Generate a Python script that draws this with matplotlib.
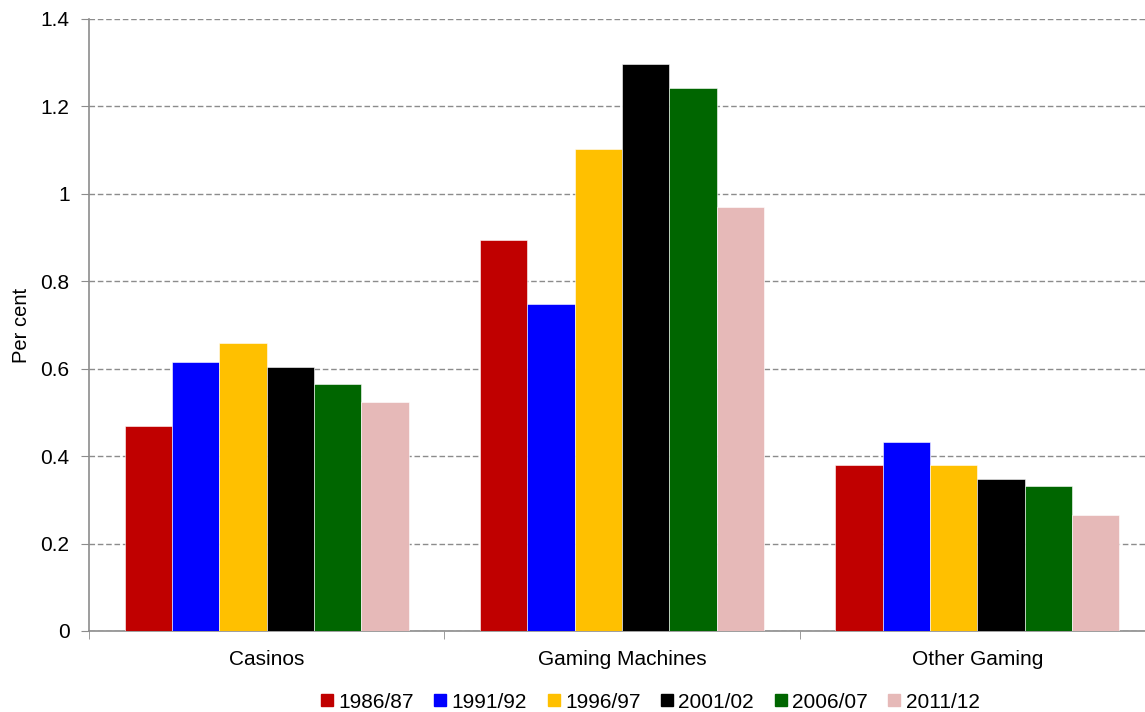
import numpy as np
import matplotlib.pyplot as plt

plt.rcParams['font.family'] = ['Liberation Sans', 'DejaVu Sans']

categories = ['Casinos', 'Gaming Machines', 'Other Gaming']
years = ['1986/87', '1991/92', '1996/97', '2001/02', '2006/07', '2011/12']
v1986 = [0.469, 0.894, 0.380]
v1991 = [0.615, 0.748, 0.432]
v1996 = [0.659, 1.103, 0.380]
v2001 = [0.604, 1.297, 0.348]
v2006 = [0.565, 1.242, 0.332]
v2011 = [0.524, 0.970, 0.265]
series = [v1986, v1991, v1996, v2001, v2006, v2011]
colors = ['#C00000', '#0000FF', '#FFC000', '#000000', '#006600', '#E6B9B8']

fig = plt.figure(figsize=(11.45, 7.12), dpi=100)
# the plot area runs a little past the right edge of the image, as in the original
ax = fig.add_axes([89 / 1145, 1 - 631 / 712, 1066 / 1145, 612 / 712])

x = np.arange(len(categories))
w = 0.8 / len(series)
for i, (vals, c, lab) in enumerate(zip(series, colors, years)):
    ax.bar(x - 0.4 + w * (i + 0.5), vals, w, color=c, label=lab,
           edgecolor='white', linewidth=0.4, zorder=3)

ax.set_xlim(-0.5, 2.5)
ax.set_ylim(0, 1.4)
ax.set_yticks(np.arange(0, 1.41, 0.2))
ax.set_yticklabels(['0', '0.2', '0.4', '0.6', '0.8', '1', '1.2', '1.4'])
ax.yaxis.grid(True, color='#8c8c8c', linestyle=(0, (4, 2)), linewidth=1)
ax.set_axisbelow(True)

ax.set_xticks(x)
ax.set_xticklabels(categories)
ax.set_xticks([-0.5, 0.5, 1.5, 2.5], minor=True)
ax.tick_params(axis='x', which='major', length=0, pad=14, labelsize=15)
ax.tick_params(axis='x', which='minor', length=6, color='#8c8c8c', direction='out')
ax.tick_params(axis='y', length=6, color='#8c8c8c', labelsize=15, pad=8)

for s in ['top', 'right']:
    ax.spines[s].set_visible(False)
for s in ['left', 'bottom']:
    ax.spines[s].set_color('#8c8c8c')
    ax.spines[s].set_linewidth(1.2)

ax.set_ylabel('Per cent', fontsize=14.5, labelpad=7)

handles = [plt.Line2D([], [], marker='s', linestyle='', color=c, markersize=8) for c in colors]
fig.legend(handles, years, loc='center', bbox_to_anchor=(648 / 1145, 1 - 702 / 712),
           ncol=6, frameon=False, fontsize=15, handletextpad=0.05, columnspacing=0.77,
           handlelength=1.0, borderpad=0)

fig.savefig('out.png', dpi=100)
